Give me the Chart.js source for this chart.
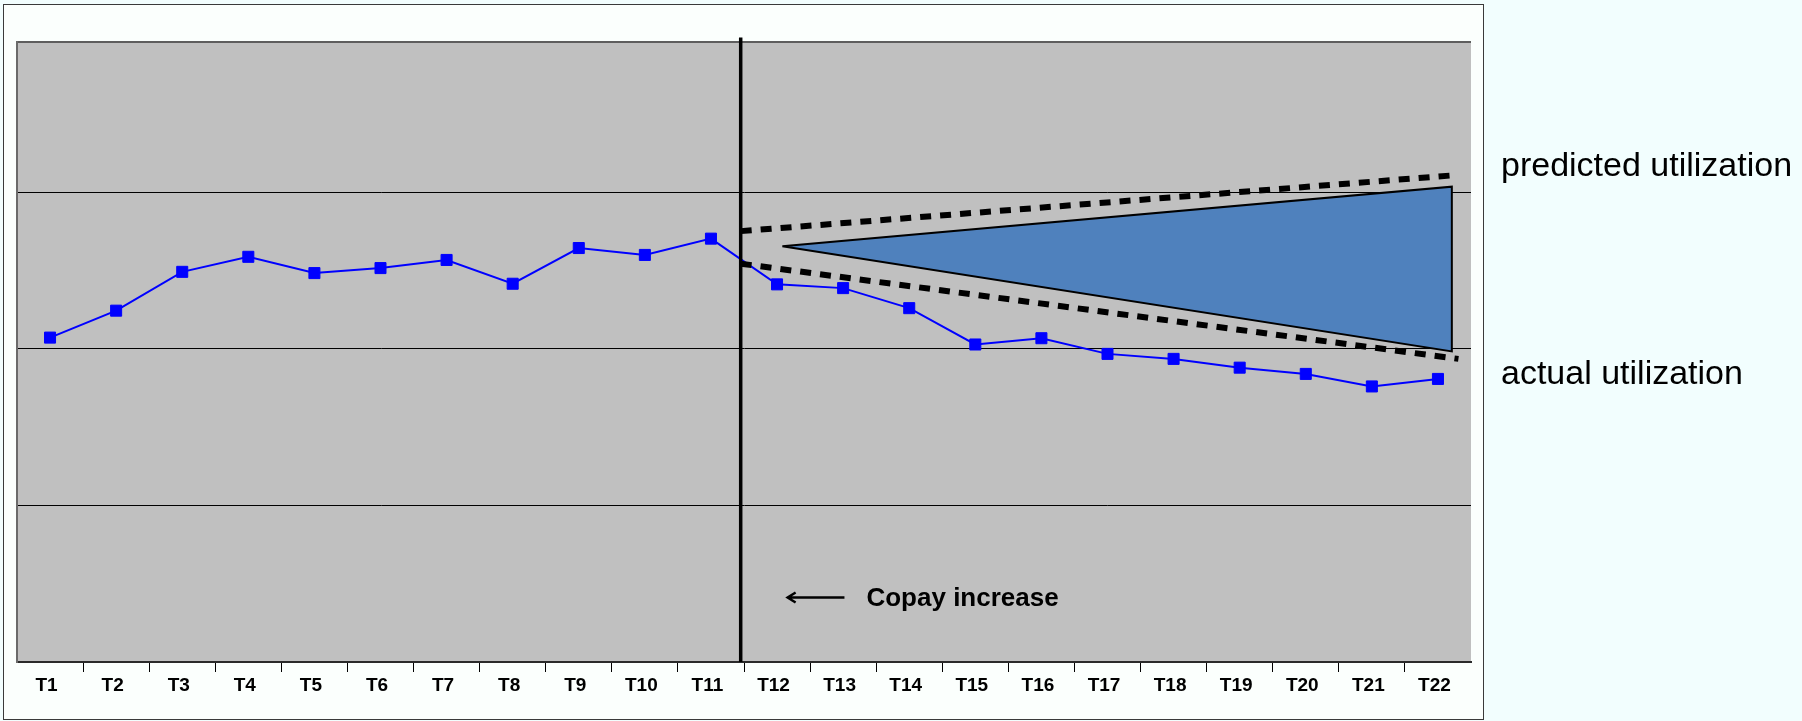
<!DOCTYPE html>
<html>
<head>
<meta charset="utf-8">
<title>Copay increase - utilization</title>
<script src="https://cdn.jsdelivr.net/npm/chart.js@4.4.1/dist/chart.umd.min.js"></script>
<style>
  html, body { margin: 0; padding: 0; background: #f2fefe; }
  #wrap { position: relative; width: 1802px; height: 721px; }
</style>
</head>
<body>
<div id="wrap"><canvas id="utilization-chart" width="1802" height="721"></canvas></div>
<script>
// periods on the x axis
var periods = ['T1', 'T2', 'T3', 'T4', 'T5', 'T6', 'T7', 'T8', 'T9', 'T10', 'T11',
  'T12', 'T13', 'T14', 'T15', 'T16', 'T17', 'T18', 'T19', 'T20', 'T21', 'T22'];

// measured utilization per period
var actualUtilization = [51.8, 56.1, 62.3, 64.7, 62.1, 62.9, 64.2, 60.4, 66.1, 65.0, 67.6,
  60.3, 59.7, 56.5, 50.7, 51.7, 49.2, 48.4, 47.0, 46.0, 44.0, 45.2];

// y axis range and grid steps (no labels shown)
var yMax = 99;
var gridValues = [0, 25, 50, 75, 99];

// copay change happens between T11 and T12
var copayX = 10.45;
var copayLineY = [0, 99.7];

// predicted cone (x in period index)
var coneX = [11.08, 21.21, 21.21, 11.08];
var coneY = [66.4, 75.9, 49.6, 66.4];

// dashed bounds of the prediction
var upperBoundX = [10.45, 21.22];
var upperBoundY = [68.8, 77.7];
var lowerBoundX = [10.45, 21.31];
var lowerBoundY = [63.6, 48.4];

// arrow next to the annotation text
var copayArrowX = [11.16, 12.02];
var copayArrowY = 10.3;

function toPoints(xs, ys) {
  return xs.map(function (x, i) { return { x: x, y: ys[i] }; });
}

var FONT = '"Liberation Sans", Arial, sans-serif';

var backdrop = {
  id: 'backdrop',
  beforeDraw: function (chart) {
    var ctx = chart.ctx;
    var a = chart.chartArea;
    ctx.save();
    // chart frame
    ctx.fillStyle = '#fbfffd';
    ctx.fillRect(3, 4, 1481, 716);
    ctx.strokeStyle = '#3a3a3a';
    ctx.lineWidth = 1;
    ctx.strokeRect(3.5, 4.5, 1480, 715);
    // plot area
    ctx.fillStyle = '#c0c0c0';
    ctx.fillRect(a.left, a.top, a.right - a.left, a.bottom - a.top);
    ctx.restore();
  }
};

var notes = {
  id: 'notes',
  afterDraw: function (chart) {
    var ctx = chart.ctx;
    var xs = chart.scales.x;
    var ys = chart.scales.y;
    var a = chart.chartArea;
    ctx.save();

    // arrow pointing back at the copay line
    var tip = xs.getPixelForValue(copayArrowX[0]);
    var tail = xs.getPixelForValue(copayArrowX[1]);
    var ay = ys.getPixelForValue(copayArrowY);
    ctx.strokeStyle = '#000';
    ctx.lineWidth = 2.5;
    ctx.beginPath();
    ctx.moveTo(tail, ay);
    ctx.lineTo(tip + 1, ay);
    ctx.moveTo(tip + 8, ay - 5);
    ctx.lineTo(tip, ay);
    ctx.lineTo(tip + 8, ay + 5);
    ctx.stroke();

    ctx.fillStyle = '#000';
    ctx.textBaseline = 'alphabetic';
    ctx.textAlign = 'left';
    ctx.font = 'bold 26px ' + FONT;
    ctx.fillText('Copay increase', tail + 22, ay + 8.5);

    // series names beside the plot
    ctx.font = '34px ' + FONT;
    var labelX = a.right + 30;
    ctx.fillText('predicted utilization', labelX, ys.getPixelForValue(upperBoundY[1]) + 1);
    ctx.fillText('actual utilization', labelX, ys.getPixelForValue(actualUtilization[actualUtilization.length - 1]) + 5);
    ctx.restore();
  }
};

var ctx = document.getElementById('utilization-chart').getContext('2d');

var chart = new Chart(ctx, {
  type: 'line',
  data: {
    datasets: [
      {
        label: 'Copay increase',
        data: toPoints([copayX, copayX], copayLineY),
        borderColor: '#000',
        borderWidth: 3.5,
        pointRadius: 0,
        clip: false,
        fill: false
      },
      {
        label: 'Upper bound',
        data: toPoints(upperBoundX, upperBoundY),
        borderColor: '#000',
        borderWidth: 6,
        borderDash: [11, 9],
        borderCapStyle: 'butt',
        pointRadius: 0,
        fill: false
      },
      {
        label: 'Lower bound',
        data: toPoints(lowerBoundX, lowerBoundY),
        borderColor: '#000',
        borderWidth: 6,
        borderDash: [11, 9],
        borderCapStyle: 'butt',
        pointRadius: 0,
        fill: false
      },
      {
        label: 'actual utilization',
        data: toPoints(periods.map(function (p, i) { return i; }), actualUtilization),
        borderColor: '#0000ff',
        borderWidth: 2,
        pointStyle: 'rect',
        pointRadius: 7.8,
        pointBorderWidth: 1,
        pointBackgroundColor: '#0000ff',
        pointBorderColor: '#0000ff',
        fill: false,
        tension: 0
      },
      {
        label: 'predicted utilization',
        data: toPoints(coneX, coneY),
        borderColor: '#000',
        borderWidth: 2,
        backgroundColor: '#4f81bd',
        borderJoinStyle: 'miter',
        pointRadius: 0,
        fill: 'shape'
      }
    ]
  },
  options: {
    responsive: false,
    animation: false,
    devicePixelRatio: 1,
    layout: { padding: { left: 17, top: 42, right: 331, bottom: 19 } },
    plugins: {
      legend: { display: false },
      tooltip: { enabled: false }
    },
    scales: {
      x: {
        type: 'linear',
        min: -0.5,
        max: periods.length - 0.5,
        afterBuildTicks: function (scale) {
          scale.ticks = periods.map(function (p, i) { return { value: i }; });
        },
        afterFit: function (scale) { scale.height = 40; },
        ticks: {
          autoSkip: false,
          maxRotation: 0,
          padding: 2,
          labelOffset: -3.5,
          color: '#000',
          font: { family: FONT, size: 19, weight: 'bold' },
          callback: function (value) { return periods[value]; }
        },
        grid: {
          offset: true,
          drawOnChartArea: false,
          drawTicks: true,
          tickLength: 10,
          // no tick marks at the two ends of the axis
          color: function (c) {
            return !c.tick || c.index === 0 ? 'rgba(0,0,0,0)' : '#000';
          },
          lineWidth: 1
        },
        border: { display: true, color: '#2a2a2a', width: 2 }
      },
      y: {
        type: 'linear',
        min: 0,
        max: yMax,
        afterBuildTicks: function (scale) {
          scale.ticks = gridValues.map(function (v) { return { value: v }; });
        },
        afterFit: function (scale) { scale.width = 0; },
        ticks: { display: false },
        grid: {
          drawTicks: false,
          color: function (c) { return c.tick && c.tick.value === yMax ? '#5e5e5e' : '#000'; },
          lineWidth: function (c) { return c.tick && c.tick.value === yMax ? 2 : 1; }
        },
        border: { display: true, color: '#6a6a6a', width: 2 }
      }
    }
  },
  plugins: [backdrop, notes]
});
</script>
</body>
</html>
